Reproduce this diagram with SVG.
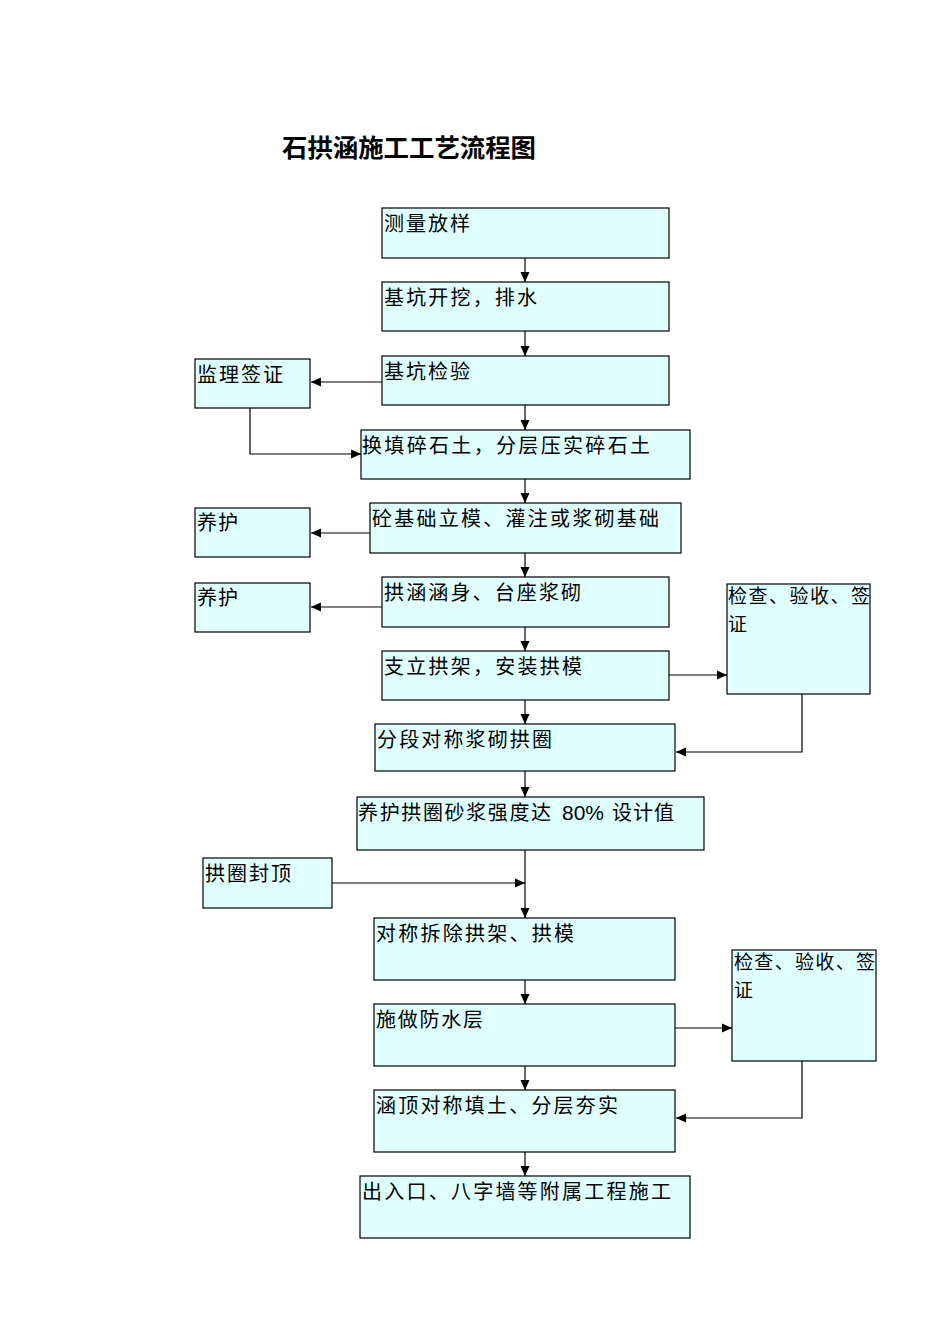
<svg xmlns="http://www.w3.org/2000/svg" width="950" height="1344" viewBox="0 0 950 1344">
<style>
.b{fill:#E0FFFF;stroke:#000;stroke-width:1.2}
.t{font-family:"Noto Sans CJK SC","Liberation Sans",sans-serif;font-size:20px;fill:#000}
.s{font-size:19px}
.c{fill:none;stroke:#000;stroke-width:1.2}
.title{font-family:"Noto Sans CJK SC","Liberation Sans",sans-serif;font-size:25px;font-weight:bold;fill:#000}
</style>
<defs>
<marker id="ah" markerWidth="12" markerHeight="12" refX="10" refY="6" orient="auto" markerUnits="userSpaceOnUse">
<path d="M0,1.5 L10,6 L0,10.5 Z" fill="#000"/>
</marker>
</defs>
<rect width="950" height="1344" fill="#fff"/>
<text class="title" x="282" y="157" textLength="254" lengthAdjust="spacingAndGlyphs">石拱涵施工工艺流程图</text>

<g id="connectors">
<path class="c" d="M525,258 V282" marker-end="url(#ah)"/>
<path class="c" d="M525,331 V356" marker-end="url(#ah)"/>
<path class="c" d="M525,405 V430" marker-end="url(#ah)"/>
<path class="c" d="M382,382 H311" marker-end="url(#ah)"/>
<path class="c" d="M250,408 V454 H361" marker-end="url(#ah)"/>
<path class="c" d="M525,479 V503" marker-end="url(#ah)"/>
<path class="c" d="M370,533 H311" marker-end="url(#ah)"/>
<path class="c" d="M525,553 V577" marker-end="url(#ah)"/>
<path class="c" d="M382,607 H311" marker-end="url(#ah)"/>
<path class="c" d="M525,627 V651" marker-end="url(#ah)"/>
<path class="c" d="M669,675 H727" marker-end="url(#ah)"/>
<path class="c" d="M802,694 V752 H676" marker-end="url(#ah)"/>
<path class="c" d="M525,700 V724" marker-end="url(#ah)"/>
<path class="c" d="M525,771 V797" marker-end="url(#ah)"/>
<path class="c" d="M525,850 V918" marker-end="url(#ah)"/>
<path class="c" d="M332,883 H525" marker-end="url(#ah)"/>
<path class="c" d="M525,980 V1004" marker-end="url(#ah)"/>
<path class="c" d="M675,1028 H732" marker-end="url(#ah)"/>
<path class="c" d="M802,1061 V1118 H676" marker-end="url(#ah)"/>
<path class="c" d="M525,1066 V1090" marker-end="url(#ah)"/>
<path class="c" d="M525,1152 V1176" marker-end="url(#ah)"/>
</g>

<g id="n1"><rect class="b" x="382" y="208" width="287" height="50"/><text class="t" x="384" y="231" textLength="86" lengthAdjust="spacing">测量放样</text></g>
<g id="n2"><rect class="b" x="382" y="282" width="287" height="49"/><text class="t" x="384" y="305" textLength="153" lengthAdjust="spacing">基坑开挖，排水</text></g>
<g id="n3"><rect class="b" x="382" y="356" width="287" height="49"/><text class="t" x="384" y="379" textLength="86" lengthAdjust="spacing">基坑检验</text></g>
<g id="n4"><rect class="b" x="195" y="359" width="115" height="49"/><text class="t" x="197" y="382" textLength="86" lengthAdjust="spacing">监理签证</text></g>
<g id="n5"><rect class="b" x="361" y="430" width="329" height="49"/><text class="t" x="362" y="453" textLength="288" lengthAdjust="spacing">换填碎石土，分层压实碎石土</text></g>
<g id="n6"><rect class="b" x="370" y="503" width="311" height="50"/><text class="t" x="372" y="526" textLength="287" lengthAdjust="spacing">砼基础立模、灌注或浆砌基础</text></g>
<g id="n7"><rect class="b" x="195" y="508" width="115" height="49"/><text class="t" x="197" y="530" textLength="41" lengthAdjust="spacing">养护</text></g>
<g id="n8"><rect class="b" x="382" y="577" width="287" height="50"/><text class="t" x="384" y="600" textLength="197" lengthAdjust="spacing">拱涵涵身、台座浆砌</text></g>
<g id="n9"><rect class="b" x="195" y="583" width="115" height="49"/><text class="t" x="197" y="605" textLength="41" lengthAdjust="spacing">养护</text></g>
<g id="n10"><rect class="b" x="727" y="584" width="143" height="110"/><text class="t s" x="728" y="603" textLength="142" lengthAdjust="spacing">检查、验收、签</text><text class="t s" x="728" y="631">证</text></g>
<g id="n11"><rect class="b" x="382" y="651" width="287" height="49"/><text class="t" x="384" y="674" textLength="198" lengthAdjust="spacing">支立拱架，安装拱模</text></g>
<g id="n12"><rect class="b" x="375" y="724" width="300" height="47"/><text class="t" x="377" y="747" textLength="175" lengthAdjust="spacing">分段对称浆砌拱圈</text></g>
<g id="n13"><rect class="b" x="357" y="797" width="347" height="53"/><text class="t" x="358" y="820"><tspan textLength="193" lengthAdjust="spacing">养护拱圈砂浆强度达</tspan><tspan x="562" font-family="Liberation Sans, sans-serif" textLength="42" lengthAdjust="spacingAndGlyphs">80%</tspan><tspan x="612" textLength="62" lengthAdjust="spacing">设计值</tspan></text></g>
<g id="n14"><rect class="b" x="203" y="858" width="129" height="50"/><text class="t" x="205" y="881" textLength="86" lengthAdjust="spacing">拱圈封顶</text></g>
<g id="n15"><rect class="b" x="374" y="918" width="301" height="62"/><text class="t" x="376" y="941" textLength="198" lengthAdjust="spacing">对称拆除拱架、拱模</text></g>
<g id="n16"><rect class="b" x="732" y="950" width="144" height="111"/><text class="t s" x="734" y="969" textLength="141" lengthAdjust="spacing">检查、验收、签</text><text class="t s" x="734" y="997">证</text></g>
<g id="n17"><rect class="b" x="374" y="1004" width="301" height="62"/><text class="t" x="376" y="1027" textLength="107" lengthAdjust="spacing">施做防水层</text></g>
<g id="n18"><rect class="b" x="374" y="1090" width="301" height="62"/><text class="t" x="376" y="1113" textLength="242" lengthAdjust="spacing">涵顶对称填土、分层夯实</text></g>
<g id="n19"><rect class="b" x="360" y="1176" width="330" height="62"/><text class="t" x="362" y="1199" textLength="309" lengthAdjust="spacing">出入口、八字墙等附属工程施工</text></g>
</svg>
